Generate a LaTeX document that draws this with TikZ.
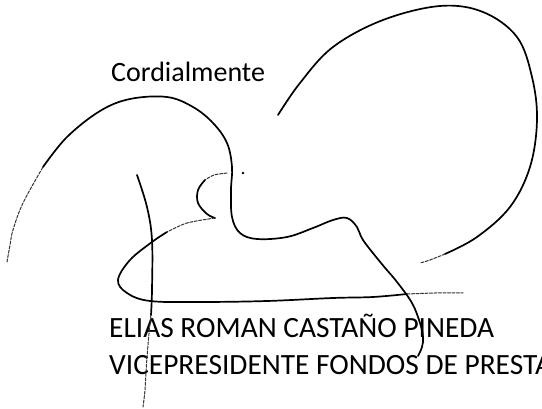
\documentclass[tikz,border=0pt]{standalone}
\usepackage{fontspec}
\setmainfont{Carlito}
\begin{document}
\begin{tikzpicture}[x=1pt,y=-1pt,
  ink/.style={line width=1.7pt, line cap=round, line join=round, black},
  faint/.style={line width=1pt, line cap=round, black!80, dash pattern=on 3pt off 1.5pt},
  txt/.style={anchor=base west, inner sep=0pt, text=black}]
\useasboundingbox[fill=white] (0,0) rectangle (542,409);
% texts
\node[txt, font=\fontsize{28}{30}\selectfont] (greet) at (111,82) {Cordialmente};
\node[txt, font=\fontsize{29.4}{34}\selectfont] (name) at (109,338) {ELIAS ROMAN CASTAÑO PINEDA};
\node[txt, font=\fontsize{29.4}{34}\selectfont] (title) at (109,375) {VICEPRESIDENTE FONDOS DE PRESTACIONES};
% big loop (top right)
\draw[ink] plot[smooth, tension=0.6] coordinates {(278,115) (300,83) (333,47) (383,20) (440,6) (483,12) (517,37) (532,77) (537,120) (530,167) (510,207) (477,237) (445,254)};
\draw[faint] plot[smooth] coordinates {(445,254) (430,260) (420,263)};
% main stroke
\draw[faint] plot[smooth, tension=0.6] coordinates {(7,262) (10,245) (13,230) (23,203) (43,167)};
\draw[ink] plot[smooth, tension=0.6] coordinates {(43,167) (67,137) (100,111) (130,99) (167,97) (193,107) (213,123) (227,143) (232,167) (231,190) (232,217) (240,233) (257,239) (287,237) (313,228) (333,220) (347,218) (357,227) (363,240) (381,263) (397,282) (412,303) (420,323) (423,337) (422,347) (418,356)};
% hook
\draw[faint] plot[smooth] coordinates {(227,173) (214,175) (205,180)};
\draw[ink] plot[smooth, tension=0.6] coordinates {(205,180) (198,190) (198,203) (207,214) (215,218)};
% lower loop
\draw[faint] plot[smooth] coordinates {(215,218) (187,223) (167,232)};
\draw[ink] plot[smooth, tension=0.6] coordinates {(167,232) (152,242) (130,260) (118,280) (127,293) (150,301) (200,302) (267,301) (333,298) (373,297) (407,294)};
\draw[faint] plot[smooth] coordinates {(407,294) (435,293) (463,293)};
% vertical stroke
\draw[ink] plot[smooth, tension=0.6] coordinates {(137,175) (147,207) (152,240) (152,290) (151,315)};
\draw[faint] plot[smooth] coordinates {(151,315) (150,323) (147,357) (145,390) (143,407)};
% dot
\fill (243,173) circle (1.4pt);
\end{tikzpicture}
\end{document}
